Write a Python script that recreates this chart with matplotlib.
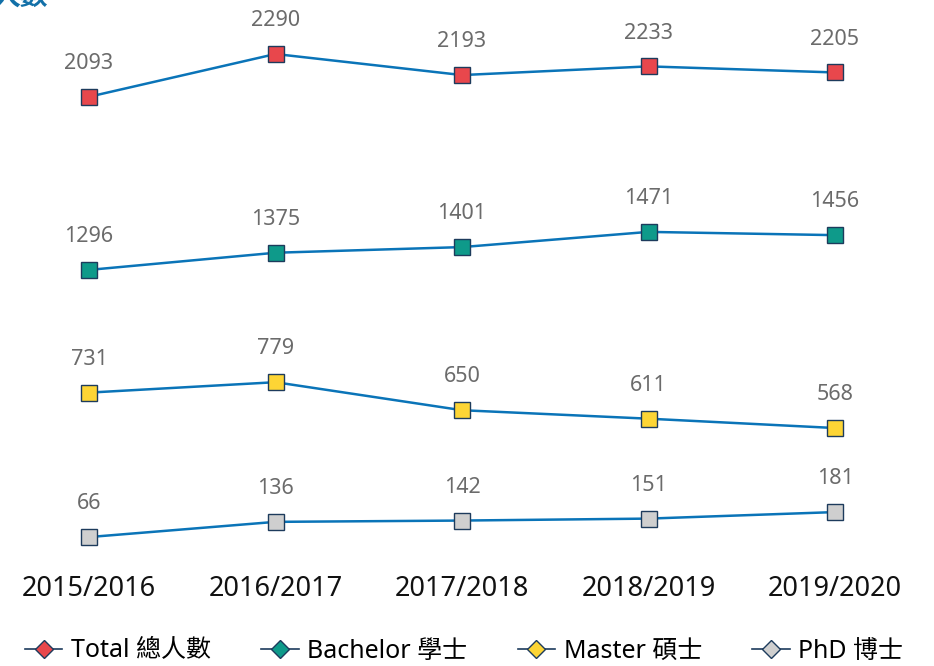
import matplotlib.pyplot as plt
from matplotlib.lines import Line2D

plt.rcParams['font.family'] = ['Noto Sans', 'Noto Sans CJK TC', 'DejaVu Sans']

years = ['2015/2016', '2016/2017', '2017/2018', '2018/2019', '2019/2020']
total = [2093, 2290, 2193, 2233, 2205]
bachelor = [1296, 1375, 1401, 1471, 1456]
master = [731, 779, 650, 611, 568]
phd = [66, 136, 142, 151, 181]

series_names = ['Total 總人數', 'Bachelor 學士', 'Master 碩士', 'PhD 博士']
series_values = [total, bachelor, master, phd]
fill_colors = ['#e8474c', '#0e9a8a', '#fdd535', '#cfcfcf']

line_color = '#0a74b8'
edge_color = '#1d3b5c'

fig = plt.figure(figsize=(9.34, 6.66), dpi=100)
ax = fig.add_axes([0, 106 / 666, 1, 560 / 666])

x = list(range(len(years)))
for vals, fc in zip(series_values, fill_colors):
    ax.plot(x, vals, color=line_color, lw=1.8, marker='s', markersize=11.5,
            markerfacecolor=fc, markeredgecolor=edge_color, markeredgewidth=1.0,
            zorder=3)
    for xi, v in zip(x, vals):
        ax.annotate(str(v), (xi, v), xytext=(0, 24), textcoords='offset points',
                    ha='center', va='center', fontsize=15.5, color='#6b6b6b')

ax.set_xlim(-89 / 186.5, (934 - 89) / 186.5)
ax.set_ylim(-39.6, 2538.6)
ax.set_xticks(x)
ax.set_xticklabels(years, fontsize=19.5, color='#111111')
ax.tick_params(axis='x', length=0, pad=11)
ax.set_yticks([])
for s in ax.spines.values():
    s.set_visible(False)

fig.text(-0.008, 1 - 6 / 666, '人數', fontsize=20, fontweight='bold',
         color='#1270a8', ha='left', va='baseline')

handles = [Line2D([0], [0], color=edge_color, lw=1.2, marker='D', markersize=9,
                  markerfacecolor=fc, markeredgecolor=edge_color, markeredgewidth=1.0)
           for fc in fill_colors]
fig.legend(handles, series_names, loc='center', bbox_to_anchor=(0.497, 1 - 651 / 666),
           ncol=4, frameon=False, fontsize=18, handlelength=1.5, handletextpad=0.35,
           columnspacing=2.0)

fig.savefig('out.png', dpi=100)
